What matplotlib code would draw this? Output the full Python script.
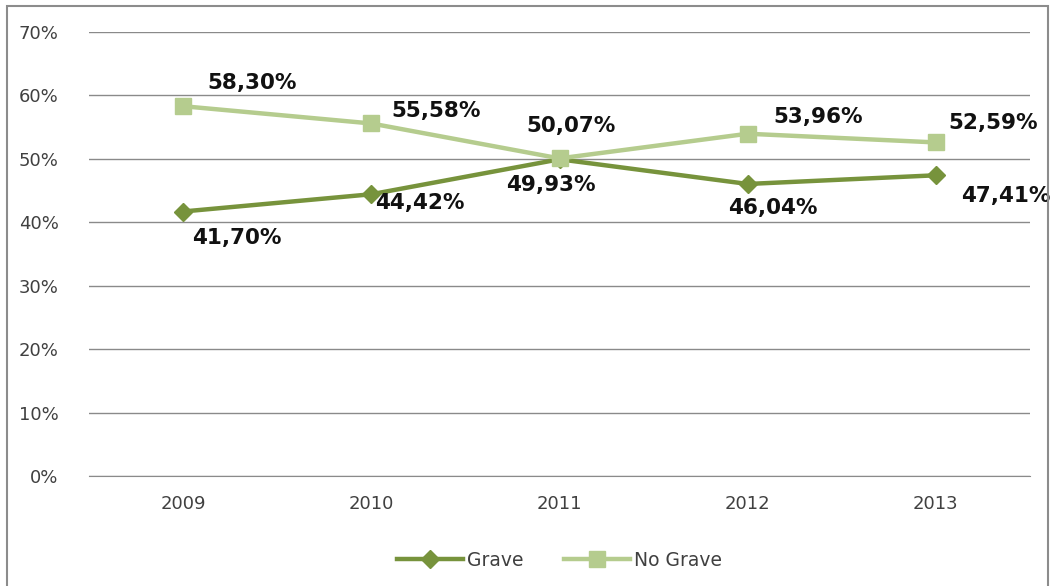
import matplotlib.pyplot as plt
from matplotlib.patches import Rectangle

years = ['2009', '2010', '2011', '2012', '2013']
grave = [41.70, 44.42, 49.93, 46.04, 47.41]
no_grave = [58.30, 55.58, 50.07, 53.96, 52.59]

# label offsets in pixels (dx, dy)
off_no = [(69, 23), (65, 12), (11, 32), (70, 17), (57, 19)]
off_gr = [(54, -26), (48, -9), (-9, -26), (25, -24), (70, -21)]

c_dark = '#77933C'
c_light = '#B5CC8E'

fig = plt.figure(figsize=(10.52, 5.86), dpi=100)
ax = fig.add_axes([89/1052, 1-476/586, (1030-89)/1052, (476-32)/586])

x = list(range(len(years)))
ax.plot(x, grave, color=c_dark, lw=3.2, marker='D', ms=9, label='Grave', zorder=3)
ax.plot(x, no_grave, color=c_light, lw=3.2, marker='s', ms=12, label='No Grave', zorder=4)

def fmt(v):
    return ('%.2f%%' % v).replace('.', ',')

for i in x:
    ax.annotate(fmt(no_grave[i]), (i, no_grave[i]), xytext=off_no[i], textcoords='offset pixels',
                ha='center', va='center', fontsize=15.5, fontweight='bold', color='#111111')
    ax.annotate(fmt(grave[i]), (i, grave[i]), xytext=off_gr[i], textcoords='offset pixels',
                ha='center', va='center', fontsize=15.5, fontweight='bold', color='#111111')

ax.set_xlim(-0.5, 4.5)
ax.set_ylim(0, 70)
ax.set_yticks(range(0, 71, 10))
ax.set_yticklabels(['%d%%' % v for v in range(0, 71, 10)])
ax.set_xticks(x)
ax.set_xticklabels(years)
ax.tick_params(length=0, labelsize=13, colors='#404040')
ax.tick_params(axis='x', pad=14)
ax.tick_params(axis='y', pad=22)
ax.grid(axis='y', color='#8a8a8a', lw=1)
ax.set_axisbelow(True)
for s in ['left', 'right', 'top']:
    ax.spines[s].set_visible(False)
ax.spines['bottom'].set_color('#8a8a8a')

ax.legend(loc='upper center', bbox_to_anchor=(0.5, -0.13), ncol=2, frameon=False,
          fontsize=13.5, labelcolor='#404040', handlelength=3.5, columnspacing=2.2,
          handletextpad=0.2)

fig.patches.append(Rectangle((7/1052, -0.05), (1048-7)/1052, 1.05-6/586, transform=fig.transFigure,
                             fill=False, ec='#8c8c8c', lw=1.5))

plt.savefig('out.png', dpi=100)
